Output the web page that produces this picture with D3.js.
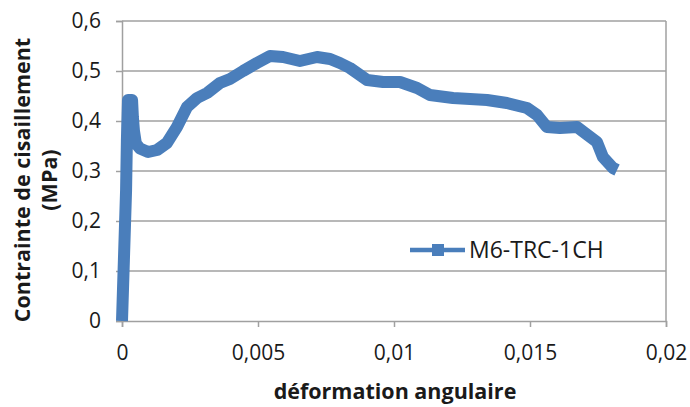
<!DOCTYPE html>
<html><head><meta charset="utf-8">
<script src="https://cdn.jsdelivr.net/npm/d3@7"></script>
<style>body{margin:0;background:#fff}svg{display:block}text{font-family:"Open Sans",sans-serif;fill:#1a1a1a}</style>
</head><body>
<svg id="c" width="690" height="407"></svg>
<script>
const seriesName = "M6-TRC-1CH";
const xTicks = [0, 0.005, 0.01, 0.015, 0.02];
const xTickLabels = ["0", "0,005", "0,01", "0,015", "0,02"];
const yTicks = [0, 0.1, 0.2, 0.3, 0.4, 0.5, 0.6];
const yTickLabels = ["0", "0,1", "0,2", "0,3", "0,4", "0,5", "0,6"];
const strainValues = [0, 0.00007, 0.00015, 0.00018, 0.00022, 0.00037, 0.0004, 0.00044, 0.00051, 0.00066, 0.00096, 0.00129, 0.00165, 0.00202, 0.00239, 0.00276, 0.00313, 0.0036, 0.00397, 0.00445, 0.00496, 0.00544, 0.00592, 0.00654, 0.00717, 0.00765, 0.00801, 0.00838, 0.00901, 0.0096, 0.01022, 0.01085, 0.01132, 0.01217, 0.01342, 0.01415, 0.01489, 0.01526, 0.01562, 0.0161, 0.01673, 0.01702, 0.01746, 0.01768, 0.01805, 0.0182];
const stressValues = [0, 0.122, 0.262, 0.362, 0.442, 0.442, 0.408, 0.38, 0.355, 0.345, 0.338, 0.342, 0.356, 0.388, 0.428, 0.446, 0.456, 0.476, 0.484, 0.5, 0.516, 0.53, 0.528, 0.52, 0.528, 0.524, 0.516, 0.506, 0.482, 0.478, 0.478, 0.466, 0.452, 0.446, 0.442, 0.436, 0.426, 0.412, 0.388, 0.386, 0.388, 0.376, 0.358, 0.328, 0.306, 0.302];

const svg = d3.select("#c");
const x = d3.scaleLinear().domain([0, 0.02]).range([122, 666]);
const y = d3.scaleLinear().domain([0, 0.6]).range([321, 21]);
const grid = "#a0a0a0";
const blue = "#4a7ebb";

// gridlines
svg.append("g").selectAll("line").data(yTicks.slice(1)).join("line")
  .attr("x1", x(0)).attr("x2", x(0.02)).attr("y1", d => y(d)).attr("y2", d => y(d))
  .attr("stroke", grid).attr("stroke-width", 1.5);
svg.append("line").attr("x1", x(0.02)).attr("x2", x(0.02)).attr("y1", y(0.6)).attr("y2", y(0))
  .attr("stroke", grid).attr("stroke-width", 1.5);

// axes
const xAxis = d3.axisBottom(x).tickValues(xTicks).tickFormat((d, i) => xTickLabels[i]).tickSize(6).tickPadding(18);
const gx = svg.append("g").attr("transform", `translate(0,${y(0)})`).call(xAxis);
const yAxis = d3.axisLeft(y).tickValues(yTicks).tickFormat((d, i) => yTickLabels[i]).tickSize(6).tickPadding(15);
const gy = svg.append("g").attr("transform", `translate(${x(0)},0)`).call(yAxis);
[gx, gy].forEach(g => {
  g.select(".domain").attr("stroke", grid).attr("stroke-width", 1.5);
  g.selectAll(".tick line").attr("stroke", grid).attr("stroke-width", 1.5);
  g.selectAll(".tick text").attr("font-family", "Open Sans").attr("font-size", 21).attr("fill", "#1a1a1a");
});

// line
const data = strainValues.map((v, i) => [v, stressValues[i]]);
svg.append("path").datum(data)
  .attr("d", d3.line().x(d => x(d[0])).y(d => y(d[1])))
  .attr("fill", "none").attr("stroke", blue).attr("stroke-width", 12).attr("stroke-linejoin", "round");

// legend
svg.append("line").attr("x1", 410).attr("x2", 465).attr("y1", 250).attr("y2", 250)
  .attr("stroke", blue).attr("stroke-width", 4.5);
svg.append("rect").attr("x", 432).attr("y", 244).attr("width", 12).attr("height", 12).attr("fill", blue);
svg.append("text").attr("x", 469).attr("y", 250).attr("dy", "0.36em").attr("font-size", 23).text(seriesName);

// axis titles
svg.append("text").attr("x", 395).attr("y", 399).attr("text-anchor", "middle")
  .attr("font-size", 21.5).attr("font-weight", "bold").text("déformation angulaire");
const yt = svg.append("text").attr("transform", "translate(30,180) rotate(-90)").attr("text-anchor", "middle")
  .attr("font-size", 21.5).attr("font-weight", "bold");
yt.append("tspan").attr("x", 0).attr("y", 0).text("Contrainte de cisaillement");
yt.append("tspan").attr("x", 0).attr("y", 27).text("(MPa)");
</script>
</body></html>
